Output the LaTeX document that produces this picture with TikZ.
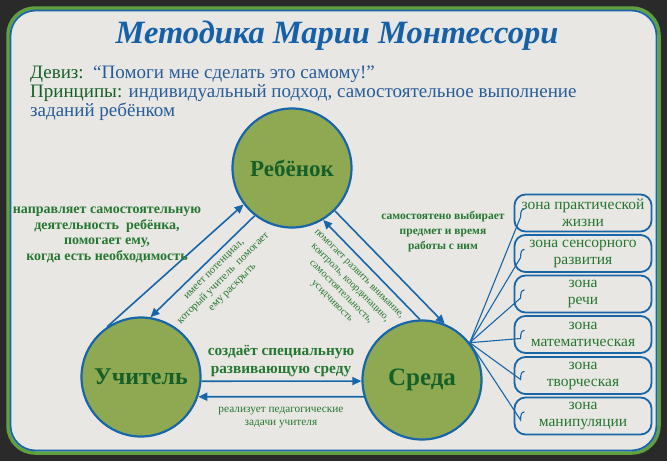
\documentclass[tikz,border=0pt]{standalone}
\usepackage{fontspec}
\setmainfont{Liberation Serif}
\usetikzlibrary{arrows.meta,calc}

\definecolor{darkbg}{RGB}{42,42,42}
\definecolor{panelbg}{RGB}{233,231,227}
\definecolor{framegreen}{RGB}{96,160,62}
\definecolor{lineblue}{RGB}{24,102,168}
\definecolor{titleblue}{RGB}{22,96,168}
\definecolor{textblue}{RGB}{38,92,152}
\definecolor{textgreen}{RGB}{36,118,48}
\definecolor{darkgreen}{RGB}{22,96,40}
\definecolor{circlegreen}{RGB}{143,169,83}

\begin{document}
\begin{tikzpicture}[x=1pt, y=-1pt,
    krug/.style={circle, draw=lineblue, line width=2.2pt, fill=circlegreen,
        minimum size=119pt, inner sep=0pt, text=darkgreen},
    zona/.style={draw=lineblue, line width=1.8pt, rounded corners=11pt,
        minimum width=137pt, minimum height=37pt, align=center, inner sep=0pt,
        text=textgreen, font=\fontsize{15.5}{17}\selectfont},
    strelka/.style={lineblue, line width=1.6pt, -{Triangle[length=9pt,width=8pt]}},
    svyaz/.style={lineblue, line width=1.1pt},
    podpis/.style={text=textgreen, align=center, inner sep=0pt}]

    \useasboundingbox (0,0) rectangle (667,461);
    \fill[darkbg] (0,0) rectangle (667,461);

    % Рамка
    \draw[framegreen, line width=3.5pt, fill=panelbg, rounded corners=27pt] (8,8) rectangle (659,453);
    \draw[lineblue, line width=1.8pt, rounded corners=25pt] (10.5,10.5) rectangle (656.5,450.5);

    % Заголовок
    \node[titleblue, font=\fontsize{32.5}{35}\selectfont\bfseries\itshape] (title) at (337,36) {Методика Марии Монтессори};

    % Девиз и принципы
    \node[anchor=north west, align=left, inner sep=0pt, text=textblue,
        font=\fontsize{19}{19}\selectfont] (deviz) at (30,66)
        {\textcolor{darkgreen}{Девиз:}\ \ “Помоги мне сделать это самому!”\\
         \textcolor{darkgreen}{Принципы:} индивидуальный подход, самостоятельное выполнение\\
         заданий ребёнком};

    % Круги
    \node[krug, font=\fontsize{23}{25}\selectfont\bfseries] (rebenok) at (292,168) {Ребёнок};
    \node[krug, font=\fontsize{24}{26}\selectfont\bfseries] (uchitel) at (141,377) {Учитель};
    \node[krug, font=\fontsize{25}{27}\selectfont\bfseries] (sreda) at (422,380) {Среда};

    % Стрелки
    \draw[strelka] (uchitel.124) -- (rebenok.217);
    \draw[strelka] (rebenok.232) -- (uchitel.81);
    \draw[strelka] (rebenok.315) -- (sreda.68);
    \draw[strelka] (sreda.92) -- (rebenok.301);
    \draw[strelka] (uchitel.-4) -- (sreda.181);
    \draw[strelka] (sreda.196.5) -- (uchitel.-19.8);

    % Подписи
    \node[podpis, font=\bfseries\fontsize{14}{15.5}\selectfont] (napravl) at (107,235)
        {направляет самостоятельную\\деятельность\ \ ребёнка,\\помогает ему,\\когда есть необходимость};
    \node[podpis, font=\bfseries\fontsize{11.5}{15}\selectfont] (vybiraet) at (443,232)
        {самостоятено выбирает\\предмет и время\\работы с ним};
    \node[podpis, rotate=45, font=\fontsize{10.8}{13}\selectfont] (potencial) at (224,279)
        {имеет потенциал,\\который учитель\ \ помогает\\ему раскрыть};
    \node[podpis, rotate=-45, font=\fontsize{10.2}{12.8}\selectfont] (razvit) at (345,288)
        {помогает развить внимание,\\контроль, координацию,\\самостоятельность,\\усидчивость};
    \node[podpis, font=\bfseries\fontsize{15.3}{18}\selectfont] (sozdaet) at (281,361)
        {создаёт специальную\\развивающую среду};
    \node[podpis, font=\fontsize{11.3}{13}\selectfont] (realizuet) at (281,418)
        {реализует педагогические\\задачи учителя};

    % Зоны среды
    \foreach \i/\y/\txt in {1/213/{зона практической\\жизни}, 2/253.5/{зона сенсорного\\развития},
        3/294/{зона\\речи}, 4/334.5/{зона\\математическая}, 5/375.5/{зона\\творческая},
        6/416/{зона\\манипуляции}} {
        \node[zona] (z\i) at (583,\y) {\txt};
        \draw[svyaz] (sreda.38) -- ($(z\i.west)+(7,4)$) .. controls +(0,-6) and +(-3,0) .. +(4,-8);
    }
\end{tikzpicture}
\end{document}
